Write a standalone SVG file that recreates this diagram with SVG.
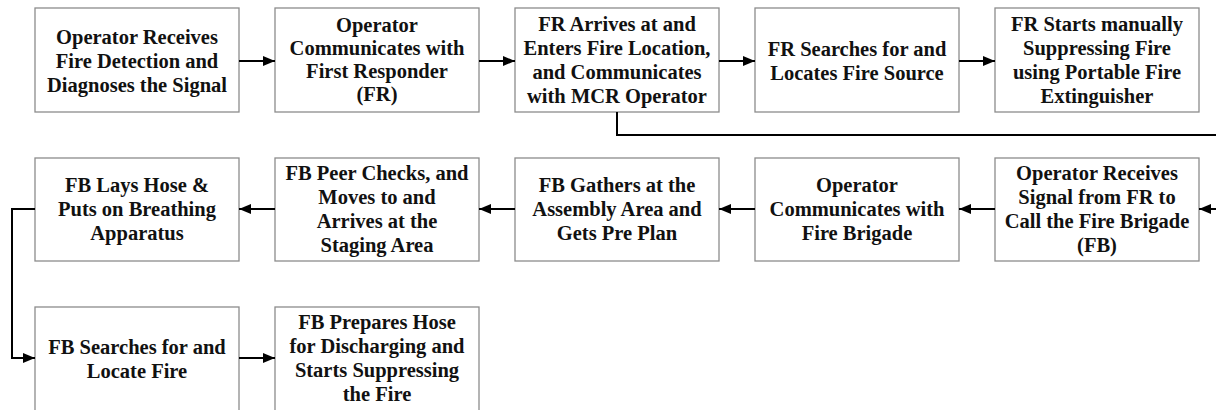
<svg xmlns="http://www.w3.org/2000/svg" width="1216" height="410" viewBox="0 0 1216 410">
  <style>
    .box { fill: #ffffff; stroke: #8c8c8c; stroke-width: 1.3; }
    .lbl { font-family: "Liberation Serif", "Times New Roman", serif; font-weight: bold; font-size: 20.5px; fill: #111111; text-anchor: middle; }
    .wire { fill: none; stroke: #000000; stroke-width: 2; }
  </style>
  <defs>
    <marker id="arrow" viewBox="0 0 12 10" refX="12" refY="5" markerWidth="12" markerHeight="10" markerUnits="userSpaceOnUse" orient="auto">
      <path d="M0,0 L12,5 L0,10 z" fill="#000000"/>
    </marker>
  </defs>
  <rect width="1216" height="410" fill="#ffffff"/>

  <!-- row 1 -->
  <g id="n1"><rect class="box" x="35" y="8" width="204" height="104"/>
    <text class="lbl" x="137"><tspan x="137" y="44">Operator Receives</tspan><tspan x="137" y="68">Fire Detection and</tspan><tspan x="137" y="92">Diagnoses the Signal</tspan></text></g>
  <g id="n2"><rect class="box" x="275" y="8" width="204" height="104"/>
    <text class="lbl" x="377"><tspan x="377" y="32">Operator</tspan><tspan x="377" y="55">Communicates with</tspan><tspan x="377" y="78">First Responder</tspan><tspan x="377" y="101">(FR)</tspan></text></g>
  <g id="n3"><rect class="box" x="515" y="8" width="204" height="104"/>
    <text class="lbl" x="617"><tspan x="617" y="31">FR Arrives at and</tspan><tspan x="617" y="55">Enters Fire Location,</tspan><tspan x="617" y="79">and Communicates</tspan><tspan x="617" y="103">with MCR Operator</tspan></text></g>
  <g id="n4"><rect class="box" x="755" y="8" width="204" height="104"/>
    <text class="lbl" x="857"><tspan x="857" y="56">FR Searches for and</tspan><tspan x="857" y="80">Locates Fire Source</tspan></text></g>
  <g id="n5"><rect class="box" x="995" y="8" width="204" height="104"/>
    <text class="lbl" x="1097"><tspan x="1097" y="31">FR Starts manually</tspan><tspan x="1097" y="55">Suppressing Fire</tspan><tspan x="1097" y="79">using Portable Fire</tspan><tspan x="1097" y="103">Extinguisher</tspan></text></g>

  <!-- row 2 -->
  <g id="n6"><rect class="box" x="995" y="158" width="204" height="103"/>
    <text class="lbl" x="1097"><tspan x="1097" y="180">Operator Receives</tspan><tspan x="1097" y="204">Signal from FR to</tspan><tspan x="1097" y="228">Call the Fire Brigade</tspan><tspan x="1097" y="252">(FB)</tspan></text></g>
  <g id="n7"><rect class="box" x="755" y="158" width="204" height="103"/>
    <text class="lbl" x="857"><tspan x="857" y="192">Operator</tspan><tspan x="857" y="216">Communicates with</tspan><tspan x="857" y="240">Fire Brigade</tspan></text></g>
  <g id="n8"><rect class="box" x="515" y="158" width="204" height="103"/>
    <text class="lbl" x="617"><tspan x="617" y="192">FB Gathers at the</tspan><tspan x="617" y="216">Assembly Area and</tspan><tspan x="617" y="240">Gets Pre Plan</tspan></text></g>
  <g id="n9"><rect class="box" x="275" y="158" width="204" height="103"/>
    <text class="lbl" x="377"><tspan x="377" y="180">FB Peer Checks, and</tspan><tspan x="377" y="204">Moves to and</tspan><tspan x="377" y="228">Arrives at the</tspan><tspan x="377" y="252">Staging Area</tspan></text></g>
  <g id="n10"><rect class="box" x="35" y="158" width="204" height="103"/>
    <text class="lbl" x="137"><tspan x="137" y="192">FB Lays Hose &amp;</tspan><tspan x="137" y="216">Puts on Breathing</tspan><tspan x="137" y="240">Apparatus</tspan></text></g>

  <!-- row 3 -->
  <g id="n11"><rect class="box" x="35" y="307" width="204" height="104"/>
    <text class="lbl" x="137"><tspan x="137" y="354">FB Searches for and</tspan><tspan x="137" y="378">Locate Fire</tspan></text></g>
  <g id="n12"><rect class="box" x="275" y="307" width="204" height="104"/>
    <text class="lbl" x="377"><tspan x="377" y="329">FB Prepares Hose</tspan><tspan x="377" y="353">for Discharging and</tspan><tspan x="377" y="377">Starts Suppressing</tspan><tspan x="377" y="401">the Fire</tspan></text></g>

  <!-- connectors -->
  <g id="connectors">
    <path class="wire" d="M239,61 H275" marker-end="url(#arrow)"/>
    <path class="wire" d="M479,61 H515" marker-end="url(#arrow)"/>
    <path class="wire" d="M719,61 H755" marker-end="url(#arrow)"/>
    <path class="wire" d="M959,61 H995" marker-end="url(#arrow)"/>
    <path class="wire" d="M617,112 V135 H1216"/>
    <path class="wire" d="M1216,209 H1199" marker-end="url(#arrow)"/>
    <path class="wire" d="M995,209 H959" marker-end="url(#arrow)"/>
    <path class="wire" d="M755,209 H719" marker-end="url(#arrow)"/>
    <path class="wire" d="M515,209 H479" marker-end="url(#arrow)"/>
    <path class="wire" d="M275,209 H239" marker-end="url(#arrow)"/>
    <path class="wire" d="M35,209 H12 V358 H35" marker-end="url(#arrow)"/>
    <path class="wire" d="M239,358 H275" marker-end="url(#arrow)"/>
  </g>
</svg>
